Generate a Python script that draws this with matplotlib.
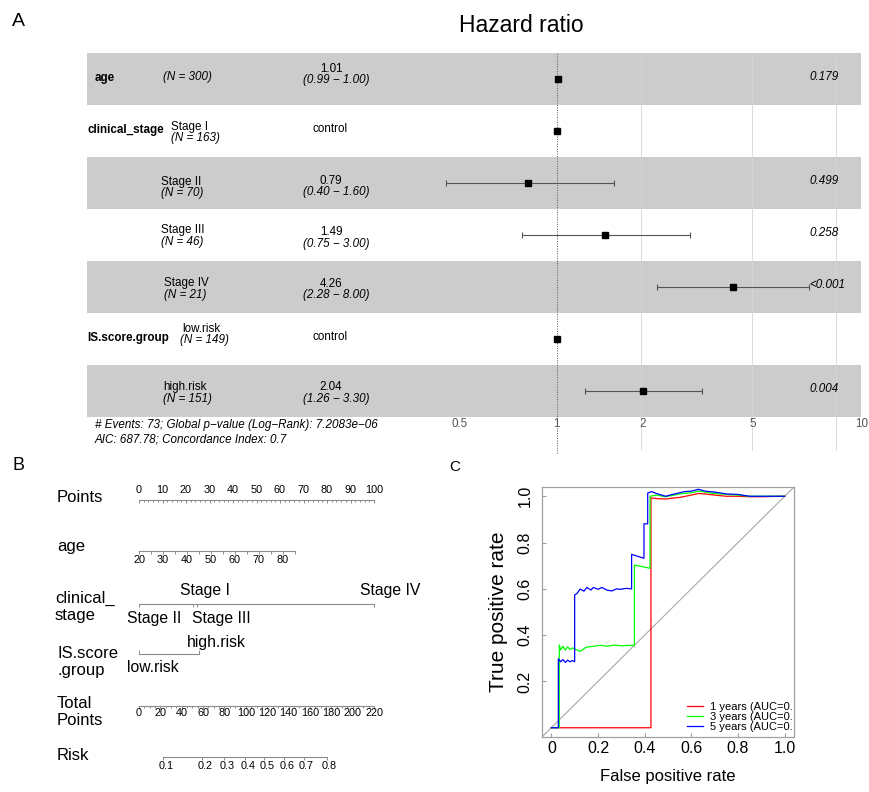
import numpy as np
import matplotlib.pyplot as plt
import matplotlib.transforms as mtransforms

plt.rcParams['font.family'] = ['Liberation Sans', 'DejaVu Sans']

W, H = 869, 792

# ---------------- Panel A : forest plot (Cox model) ----------------
var_names = ['age', 'clinical_stage', '', '', '', 'IS.score.group', '']
levels = ['', 'Stage I', 'Stage II', 'Stage III', 'Stage IV', 'low.risk', 'high.risk']
n_obs = [300, 163, 70, 46, 21, 149, 151]
hr = [1.01, 1.0, 0.79, 1.49, 4.26, 1.0, 2.04]
ci_low = [0.99, np.nan, 0.40, 0.75, 2.28, np.nan, 1.26]
ci_high = [1.00, np.nan, 1.60, 3.00, 8.00, np.nan, 3.30]
p_vals = ['0.179', '', '0.499', '0.258', '<0.001', '', '0.004']
is_reference = [False, True, False, False, False, True, False]
hr_ticks = [0.5, 1, 2, 5, 10]
footnote = ['# Events: 73; Global p\u2212value (Log\u2212Rank): 7.2083e\u221206',
            'AIC: 687.78; Concordance Index: 0.7']

# ---------------- Panel B : nomogram ----------------
points_ticks = np.arange(0, 101, 10)
age_ticks = [20, 30, 40, 50, 60, 70, 80, 85]
age_points = [0, 10.2, 20.4, 30.6, 40.8, 51.0, 61.2, 66.4]
stage_levels = ['Stage I', 'Stage II', 'Stage III', 'Stage IV']
stage_points = [23.0, 0.0, 24.5, 100.0]
group_levels = ['low.risk', 'high.risk']
group_points = [0.0, 25.5]
total_ticks = np.arange(0, 221, 20)
risk_ticks = [0.1, 0.2, 0.3, 0.4, 0.5, 0.6, 0.7, 0.8]
risk_total_points = [22.7, 59, 80, 99, 117, 135.5, 154, 175.7]

# ---------------- Panel C : time dependent ROC ----------------
red_fpr = [0.0, 0.427, 0.427, 0.45, 0.49, 0.52, 0.55, 0.60, 0.63, 0.66, 0.70, 0.75, 0.80, 0.85, 0.90, 1.0]
red_tpr = [0.0, 0.0, 0.993, 0.99, 0.988, 0.992, 0.995, 1.005, 1.012, 1.01, 1.005, 1.0, 1.0, 0.998, 0.998, 1.0]
green_fpr = [0.0, 0.034, 0.034, 0.04, 0.05, 0.06, 0.07, 0.08, 0.09, 0.10, 0.123, 0.15, 0.18, 0.21, 0.24, 0.27,
             0.30, 0.33, 0.356, 0.356, 0.423, 0.423, 0.45, 0.49, 0.52, 0.55, 0.60, 0.63, 0.66, 0.70, 0.75,
             0.80, 0.85, 0.90, 1.0]
green_tpr = [0.0, 0.0, 0.358, 0.336, 0.352, 0.335, 0.35, 0.338, 0.345, 0.34, 0.33, 0.348, 0.352, 0.356, 0.352,
             0.357, 0.354, 0.356, 0.355, 0.703, 0.689, 1.0, 1.005, 0.998, 1.004, 1.01, 1.015, 1.022, 1.018,
             1.012, 1.008, 1.005, 1.0, 1.0, 1.0]
blue_fpr = [0.0, 0.03, 0.03, 0.04, 0.05, 0.06, 0.07, 0.08, 0.09, 0.10, 0.10, 0.10, 0.11, 0.123, 0.14, 0.152,
            0.17, 0.18, 0.20, 0.216, 0.24, 0.259, 0.28, 0.294, 0.32, 0.344, 0.344, 0.397, 0.397, 0.413, 0.413,
            0.43, 0.45, 0.49, 0.52, 0.55, 0.57, 0.60, 0.63, 0.66, 0.70, 0.75, 0.80, 0.85, 0.90, 0.95, 1.0]
blue_tpr = [0.0, 0.0, 0.298, 0.285, 0.295, 0.282, 0.292, 0.285, 0.29, 0.285, 0.434, 0.574, 0.58, 0.599, 0.59,
            0.606, 0.595, 0.606, 0.598, 0.606, 0.594, 0.591, 0.60, 0.598, 0.602, 0.60, 0.749, 0.732, 0.881,
            0.881, 1.014, 1.02, 1.012, 1.0, 1.008, 1.015, 1.02, 1.022, 1.03, 1.022, 1.018, 1.01, 1.008, 1.0,
            1.0, 1.0, 1.0]
roc_labels = ['1 years (AUC=0.', '3 years (AUC=0.', '5 years (AUC=0.']
roc_colors = ['#ff0000', '#00ff00', '#0000ff']


def fig_box(x0, y0, x1, y1):
    # pixel box -> figure fraction rect
    return [x0 / W, 1 - y1 / H, (x1 - x0) / W, (y1 - y0) / H]


def ftext(x, y, s, **kw):
    fig.text(x / W, 1 - y / H, s, **kw)


fig = plt.figure(figsize=(W / 100, H / 100), dpi=100)

########################## Panel A ##########################
axA = fig.add_axes(fig_box(87, 53, 861, 417))
axA.set_xscale('log')
axA.set_xlim(0.0207, 12.3)
nrow = len(hr)
rows = np.arange(nrow)
axA.set_ylim(nrow - 0.5, -0.5)
for s in axA.spines.values():
    s.set_visible(False)
axA.set_yticks([])
axA.set_xticks([])
axA.minorticks_off()

for r in rows[::2]:
    axA.axhspan(r - 0.5, r + 0.5, color='#cccccc', lw=0, zorder=0)
for v in hr_ticks[2:]:
    axA.axvline(v, ymin=-0.09, ymax=1, color='#d6d6d6', lw=0.6, zorder=1, clip_on=False)
axA.axvline(1, ymin=-0.1, ymax=1, color='#555555', lw=0.7, ls=(0, (1, 1.5)), zorder=2, clip_on=False)

lo = np.array(ci_low)
hi = np.array(ci_high)
ok = ~np.isnan(lo)
axA.hlines(rows[ok], lo[ok], hi[ok], color='#555555', lw=0.8, zorder=3)
axA.plot(lo[ok], rows[ok], ls='none', marker='|', ms=5, mew=0.8, color='#555555', zorder=3)
axA.plot(hi[ok], rows[ok], ls='none', marker='|', ms=5, mew=0.8, color='#555555', zorder=3)
axA.plot(hr, rows, ls='none', marker='s', ms=4, color='black', zorder=4)

# hazard ratio tick labels (ggforest shifts the outer ones)
tick_dx = [-13, 0, 2, 1, 26]
for v, dx in zip(hr_ticks, tick_dx):
    tr = mtransforms.blended_transform_factory(axA.transData, axA.transAxes) + \
        mtransforms.ScaledTranslation(dx / 100, 0, fig.dpi_scale_trans)
    axA.text(v, -0.019, f'{v:g}', transform=tr, ha='center', va='center', fontsize=8.4, color='#555555')

tr_rows = mtransforms.blended_transform_factory(fig.transFigure, axA.transData)
RH = 52.0  # pixels per row
FS = 8.4


def rtext(px, row, dy, s, **kw):
    axA.text(px / W, row + dy / RH, s, transform=tr_rows, va='center', fontsize=FS, **kw)


var_x = [95, 87, 87, 87, 87, 87, 87]
level_x = [163, 171, 161, 161, 164, 182, 163]
level_dy = [(-2, -2), (-4, 7), (-1, 10), (-5, 7.5), (-4, 8), (-10, 1), (-4, 7.5)]
est_dy = [(-10, 1.5), (-2, -2), (-2, 8.5), (-3, 8.5), (-3.5, 7.5), (-2, -2), (-4, 8)]
for i in rows:
    if var_names[i]:
        rtext(var_x[i], i, -1, var_names[i], fontweight='bold')
    n_lab = f'(N = {n_obs[i]})'
    if levels[i]:
        rtext(level_x[i], i, level_dy[i][0], levels[i])
        rtext(level_x[i] - (2 if i == 5 else 0), i, level_dy[i][1], n_lab, style='italic')
    else:
        rtext(level_x[i], i, level_dy[i][0], n_lab, style='italic')
    if is_reference[i]:
        rtext(330, i, est_dy[i][0], 'control', ha='center')
    else:
        rtext(331, i, est_dy[i][0], f'{hr[i]:.2f}', ha='center')
        rtext(336, i, est_dy[i][1], f'({ci_low[i]:.2f} \u2212 {ci_high[i]:.2f})', ha='center', style='italic')
    if p_vals[i]:
        rtext(809, i, -2, p_vals[i], ha='left', style='italic')

ftext(95, 425, footnote[0], fontsize=FS, style='italic', va='center')
ftext(95, 440, footnote[1], fontsize=FS, style='italic', va='center')
ftext(521, 25, 'Hazard ratio', fontsize=16.5, ha='center', va='center')
ftext(18, 22, 'A', fontsize=14, ha='center', va='center')

########################## Panel B ##########################
axB = fig.add_axes(fig_box(40, 470, 440, 790))
PX = 2.35  # pixels per nomogram point, 0 points at x=139 px
axB.set_xlim((40 - 139) / PX, (440 - 139) / PX)
axB.set_ylim(790, 470)
axB.axis('off')
lc = '#8c8c8c'
tick_fs = 7.8


def scale_line(y, x0, x1):
    axB.plot([x0, x1], [y, y], color=lc, lw=0.8, clip_on=False)


def ticks(xs, y, length):
    axB.vlines(xs, y, y + length, color=lc, lw=0.7, clip_on=False)


# Points
y = 500
scale_line(y, points_ticks[0], points_ticks[-1])
ticks(np.arange(0, 101, 2), y, 1.5)
ticks(points_ticks, y, 3)
for t in points_ticks:
    axB.text(t, 490, f'{t}', ha='center', va='center', fontsize=tick_fs)

# age
y = 551
scale_line(y, age_points[0], age_points[-1])
ticks(np.interp(np.arange(20, 86, 5), age_ticks, age_points), y, 3)
for a, p in zip(age_ticks[:-1], age_points[:-1]):
    axB.text(p, 560, f'{a}', ha='center', va='center', fontsize=tick_fs)

# clinical stage
y = 604
scale_line(y, min(stage_points), max(stage_points))
ticks(stage_points, y, 3)
stage_lab = {'Stage I': (-13, 591), 'Stage II': (-12, 618), 'Stage III': (-5, 618), 'Stage IV': (-14, 591)}
for lev, p in zip(stage_levels, stage_points):
    dx, ly = stage_lab[lev]
    axB.text(p + dx / PX, ly, lev, ha='left', va='center', fontsize=11.3)

# IS.score.group
y = 654
scale_line(y, min(group_points), max(group_points))
ticks(group_points, y, -4)
group_lab = {'low.risk': 667, 'high.risk': 642}
for lev, p in zip(group_levels, group_points):
    axB.text(p - 12 / PX, group_lab[lev], lev, ha='left', va='center', fontsize=11.3)

# Total points
k = 100 / 220  # total points -> nomogram x units
y = 706
scale_line(y, 0, 220 * k)
ticks(np.arange(0, 221, 5) * k, y, 1.5)
ticks(total_ticks * k, y, 3)
for t in total_ticks:
    axB.text(t * k, 713, f'{t}', ha='center', va='center', fontsize=tick_fs)

# Risk
y = 757
rx = np.array(risk_total_points) * k
scale_line(y, rx[0], rx[-1])
ticks(rx, y, 3)
for r, x in zip(risk_ticks, rx):
    axB.text(x + 3 / PX, 766, f'{r:g}', ha='center', va='center', fontsize=tick_fs)

row_labels = [(57, 498, 'Points'), (57, 547, 'age'), (55, 607, 'clinical_\nstage'),
              (57, 662, 'IS.score\n.group'), (57, 712, 'Total\nPoints'), (57, 755, 'Risk')]
for x, yy, s in row_labels:
    ftext(x, yy, s, fontsize=12, ha='left', va='center', linespacing=1.2)
ftext(18, 466, 'B', fontsize=13, ha='center', va='center')

########################## Panel C ##########################
axC = fig.add_axes(fig_box(542, 487, 794, 737))
axC.set_xlim(-0.04, 1.04)
axC.set_ylim(-0.04, 1.04)
axC.axline((0, 0), (1, 1), color='#a8a8a8', lw=0.8)
for fx, ty, c, lab in zip([red_fpr, green_fpr, blue_fpr], [red_tpr, green_tpr, blue_tpr], roc_colors, roc_labels):
    axC.plot(fx, ty, color=c, lw=0.9, label=lab)
for s in axC.spines.values():
    s.set_color('#a0a0a0')
    s.set_linewidth(0.9)
axC.set_xticks(np.arange(0, 1.01, 0.2))
axC.set_xticklabels(['0', '0.2', '0.4', '0.6', '0.8', '1.0'])
axC.set_yticks([0.2, 0.4, 0.6, 0.8, 1.0])
axC.set_yticklabels(['0.2', '0.4', '0.6', '0.8', '1.0'])
axC.tick_params(direction='in', length=3, color='#a0a0a0', labelsize=11.5)
axC.tick_params(axis='x', pad=3)
axC.tick_params(axis='y', pad=7, labelrotation=90)
for t in axC.get_yticklabels():
    t.set_va('center')
axC.set_xlabel('False positive rate', fontsize=12)
axC.set_ylabel('True positive rate', fontsize=15)
axC.xaxis.set_label_coords(0.5, -0.13)
axC.yaxis.set_label_coords(-0.135, 0.5)
leg = axC.legend(loc='upper left', bbox_to_anchor=((687 - 542) / 252, (737 - 702) / 250), frameon=False,
                 borderpad=0, borderaxespad=0, handlelength=1.4, handletextpad=0.7, labelspacing=0.0,
                 fontsize=8)
for t in leg.get_texts():
    t.set_clip_on(True)
    t.set_clip_box(axC.bbox)
ftext(455, 467, 'C', fontsize=11, ha='center', va='center')

fig.savefig('out.png', dpi=100)
